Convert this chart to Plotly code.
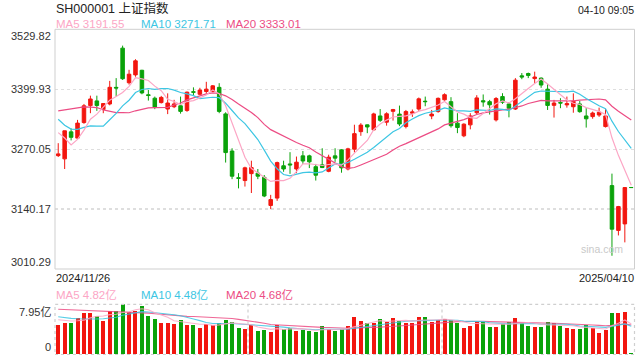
import plotly.graph_objects as go

# ---------------- data ----------------
dates = (
    ["2024/11/26", "2024/11/27", "2024/11/28", "2024/11/29"]
    + ["2024/12/%02d" % d for d in [2, 3, 4, 5, 6, 9, 10, 11, 12, 13, 16, 17, 18, 19, 20, 23, 24, 25, 26, 27, 30, 31]]
    + ["2025/01/%02d" % d for d in [2, 3, 6, 7, 8, 9, 10, 13, 14, 15, 16, 17, 20, 21, 22, 23, 24, 27]]
    + ["2025/02/%02d" % d for d in [5, 6, 7, 10, 11, 12, 13, 14, 17, 18, 19, 20, 21, 24, 25, 26, 27, 28]]
    + ["2025/03/%02d" % d for d in [3, 4, 5, 6, 7, 10, 11, 12, 13, 14, 17, 18, 19, 20, 21, 24, 25, 26, 27, 28, 31]]
    + ["2025/04/%02d" % d for d in [1, 2, 3, 7, 8, 9, 10]]
)

opens = [
    3256.0, 3249.0, 3307.5, 3294.0, 3327.7, 3364.5, 3374.6, 3356.0, 3368.0, 3404.0,
    3489.0, 3414.0, 3431.0, 3441.0, 3388.0, 3380.5, 3371.0, 3357.0, 3362.0, 3364.0,
    3354.0, 3394.5, 3389.0, 3395.0, 3395.0, 3404.0, 3346.5, 3266.0, 3208.0, 3202.0,
    3217.0, 3218.0, 3209.0, 3148.0, 3164.0, 3234.0, 3238.0, 3227.0, 3255.5, 3255.5,
    3232.0, 3236.0, 3222.0, 3255.5, 3268.5, 3227.0, 3270.0, 3308.0, 3322.7, 3312.0,
    3342.0, 3328.5, 3352.0, 3346.0, 3319.0, 3348.0, 3357.0, 3374.0, 3342.0, 3351.5,
    3377.0, 3373.0, 3326.4, 3299.0, 3322.7, 3349.0, 3375.0, 3373.0, 3333.5, 3384.0,
    3368.0, 3357.0, 3429.0, 3434.0, 3423.0, 3424.0, 3400.0, 3365.0, 3371.0, 3366.0,
    3362.0, 3368.0, 3342.0, 3340.6, 3344.0, 3319.0, 3191.0, 3094.0, 3108.0, 3187.0,
]
highs = [
    3283.0, 3310.0, 3315.0, 3333.5, 3368.0, 3386.0, 3386.0, 3370.0, 3418.0, 3424.0,
    3494.4, 3442.0, 3465.0, 3442.0, 3398.5, 3384.0, 3385.5, 3391.0, 3377.0, 3384.0,
    3395.0, 3404.0, 3403.0, 3416.0, 3409.0, 3413.0, 3350.0, 3272.0, 3218.0, 3232.0,
    3245.0, 3227.0, 3214.0, 3171.0, 3243.0, 3245.0, 3263.5, 3254.0, 3266.0, 3258.0,
    3238.0, 3272.0, 3258.0, 3272.0, 3270.0, 3273.0, 3323.0, 3326.4, 3323.5, 3349.0,
    3357.0, 3350.0, 3357.3, 3364.5, 3355.0, 3356.0, 3382.0, 3384.0, 3355.0, 3382.0,
    3391.0, 3382.7, 3348.0, 3326.0, 3348.0, 3387.0, 3388.6, 3376.8, 3383.0, 3391.3,
    3372.0, 3424.0, 3435.0, 3436.0, 3438.0, 3425.5, 3411.5, 3376.8, 3380.5, 3384.0,
    3391.0, 3374.6, 3359.0, 3351.5, 3360.0, 3357.0, 3217.0, 3147.0, 3188.0, 3187.0,
]
lows = [
    3253.0, 3227.0, 3289.0, 3293.0, 3325.0, 3348.0, 3353.0, 3348.0, 3365.0, 3384.0,
    3420.0, 3410.0, 3427.0, 3389.0, 3375.3, 3356.7, 3369.0, 3346.0, 3359.0, 3347.0,
    3351.0, 3386.0, 3387.0, 3390.0, 3394.0, 3348.0, 3241.0, 3205.0, 3185.0, 3189.0,
    3175.0, 3205.0, 3166.0, 3140.0, 3158.0, 3221.0, 3216.5, 3218.0, 3238.0, 3229.0,
    3202.0, 3229.0, 3220.0, 3242.5, 3219.0, 3224.0, 3263.0, 3299.0, 3304.7, 3310.0,
    3329.0, 3321.0, 3332.0, 3320.0, 3315.0, 3340.0, 3352.0, 3363.0, 3335.0, 3349.0,
    3375.0, 3316.8, 3304.7, 3296.0, 3313.0, 3346.0, 3362.0, 3345.0, 3330.0, 3368.0,
    3339.0, 3355.0, 3421.7, 3424.0, 3413.0, 3403.0, 3355.0, 3338.5, 3358.8, 3360.0,
    3349.0, 3349.0, 3316.8, 3336.0, 3340.0, 3317.0, 3039.0, 3083.0, 3068.0, 3186.8,
]
closes = [
    3259.8, 3309.8, 3295.7, 3326.5, 3364.0, 3378.8, 3364.7, 3368.9, 3404.1, 3402.5,
    3422.7, 3432.5, 3461.5, 3391.9, 3386.3, 3361.5, 3382.2, 3370.0, 3368.1, 3351.9,
    3393.5, 3393.4, 3398.1, 3400.1, 3407.3, 3351.8, 3262.6, 3211.4, 3206.9, 3229.6,
    3230.2, 3211.4, 3168.5, 3160.8, 3240.9, 3227.1, 3236.0, 3241.8, 3244.4, 3242.6,
    3213.6, 3230.2, 3252.6, 3250.6, 3229.5, 3270.7, 3303.7, 3322.2, 3318.1, 3346.4,
    3332.5, 3346.7, 3355.8, 3324.5, 3351.5, 3350.8, 3379.1, 3373.0, 3346.0, 3380.2,
    3388.1, 3320.9, 3316.9, 3324.2, 3342.0, 3381.1, 3372.6, 3366.2, 3379.8, 3371.9,
    3358.7, 3419.6, 3426.4, 3429.8, 3426.4, 3409.0, 3364.8, 3370.0, 3370.0, 3368.7,
    3373.8, 3351.3, 3335.8, 3348.4, 3350.1, 3342.0, 3096.6, 3145.6, 3186.8, 3186.8,
]

ma5 = [
    3305.8, 3294.2, 3279.4, 3291.2, 3311.2, 3335.0, 3346.0, 3360.6, 3376.2, 3384.0,
    3392.8, 3406.2, 3424.8, 3422.4, 3419.0, 3406.6, 3396.6, 3378.2, 3373.4, 3366.6,
    3373.2, 3375.4, 3381.0, 3387.4, 3398.4, 3390.0, 3364.0, 3326.6, 3288.0, 3252.6,
    3228.2, 3217.8, 3209.4, 3200.2, 3202.4, 3201.8, 3206.8, 3221.4, 3238.0, 3238.4,
    3235.8, 3234.6, 3236.8, 3238.2, 3235.4, 3246.8, 3261.6, 3275.4, 3288.8, 3312.2,
    3324.4, 3333.0, 3339.8, 3341.0, 3342.2, 3346.0, 3352.4, 3355.8, 3360.2, 3365.8,
    3373.2, 3361.6, 3350.4, 3346.0, 3338.4, 3337.0, 3347.4, 3357.2, 3368.4, 3374.4,
    3370.0, 3379.4, 3391.4, 3401.4, 3412.2, 3422.2, 3411.2, 3400.0, 3388.0, 3376.6,
    3369.6, 3366.8, 3360.0, 3355.6, 3351.8, 3345.4, 3294.6, 3256.6, 3224.4, 3191.6,
]
ma10 = [
    3334.9, 3322.0, 3313.6, 3313.1, 3317.1, 3320.4, 3320.1, 3320.0, 3333.7, 3347.6,
    3363.9, 3376.1, 3392.7, 3399.3, 3401.5, 3399.7, 3401.4, 3401.5, 3397.9, 3392.8,
    3389.9, 3386.0, 3379.6, 3380.4, 3382.5, 3381.6, 3369.7, 3353.8, 3337.7, 3325.5,
    3309.1, 3290.9, 3268.0, 3244.1, 3227.5, 3215.0, 3212.3, 3215.4, 3219.1, 3220.4,
    3218.8, 3220.7, 3229.1, 3238.1, 3236.9, 3241.3, 3248.1, 3256.1, 3263.5, 3273.8,
    3285.6, 3297.3, 3307.6, 3314.9, 3327.2, 3335.2, 3342.7, 3347.8, 3350.6, 3354.0,
    3359.6, 3357.0, 3353.1, 3353.1, 3352.1, 3355.1, 3354.5, 3353.8, 3357.2, 3356.4,
    3353.5, 3363.4, 3374.3, 3384.9, 3393.3, 3396.1, 3395.3, 3395.7, 3394.7, 3394.4,
    3395.9, 3389.0, 3380.0, 3371.8, 3364.2, 3357.5, 3330.7, 3308.3, 3290.0, 3271.7,
]
ma20 = [
    3353.2, 3355.4, 3356.2, 3358.9, 3361.6, 3361.2, 3360.2, 3355.1, 3352.7, 3349.4,
    3349.4, 3349.0, 3353.2, 3356.2, 3359.3, 3360.1, 3360.8, 3360.8, 3365.8, 3370.2,
    3376.9, 3381.1, 3386.2, 3389.9, 3392.0, 3390.7, 3385.6, 3377.7, 3367.8, 3359.2,
    3349.5, 3338.5, 3323.8, 3312.3, 3305.0, 3298.3, 3291.0, 3284.6, 3278.4, 3273.0,
    3264.0, 3255.8, 3248.6, 3241.1, 3232.2, 3228.2, 3230.2, 3235.8, 3241.3, 3247.1,
    3252.2, 3259.0, 3268.4, 3276.5, 3282.1, 3288.3, 3295.4, 3302.0, 3307.0, 3313.9,
    3322.6, 3327.2, 3330.4, 3334.0, 3339.7, 3345.2, 3348.6, 3350.8, 3353.9, 3355.2,
    3356.6, 3360.2, 3363.7, 3369.0, 3372.7, 3375.6, 3374.9, 3374.8, 3376.0, 3375.4,
    3374.7, 3376.2, 3377.2, 3378.4, 3378.8, 3376.8, 3363.0, 3352.0, 3342.4, 3333.1,
]

# volume in 亿
volumes = [
    4.72, 5.04, 5.04, 5.78, 6.63, 6.63, 6.10, 5.35, 6.89, 6.89,
    7.95, 6.73, 6.94, 7.74, 6.10, 5.62, 5.04, 5.04, 4.88, 5.46,
    4.72, 4.72, 4.24, 4.77, 4.66, 5.04, 5.46, 5.14, 4.24, 4.08,
    4.61, 3.71, 3.92, 3.60, 4.61, 3.98, 4.19, 3.76, 3.92, 3.76,
    3.60, 4.51, 3.98, 3.71, 3.98, 4.51, 5.94, 5.30, 4.93, 5.04,
    5.62, 5.19, 5.78, 5.35, 5.04, 5.04, 5.94, 5.94, 5.19, 5.46,
    5.57, 5.46, 5.04, 4.19, 4.56, 5.35, 5.19, 4.40, 4.40, 4.82,
    5.09, 5.78, 5.04, 4.56, 4.35, 4.35, 5.09, 4.93, 4.51, 4.19,
    4.03, 4.08, 4.66, 4.19, 3.45, 3.87, 6.63, 6.63, 6.78, 0.20,
]
vma5 = [
    5.50, 5.40, 5.30, 5.35, 5.44, 5.82, 6.04, 6.10, 6.32, 6.37,
    6.64, 6.76, 7.08, 7.25, 7.09, 6.63, 6.29, 5.91, 5.34, 5.21,
    5.03, 4.96, 4.80, 4.78, 4.62, 4.69, 4.83, 5.01, 4.91, 4.79,
    4.71, 4.36, 4.11, 3.98, 4.09, 3.96, 4.06, 4.03, 4.09, 3.92,
    3.85, 3.91, 3.95, 3.91, 3.96, 4.14, 4.42, 4.69, 4.93, 5.14,
    5.37, 5.22, 5.31, 5.40, 5.40, 5.28, 5.43, 5.46, 5.43, 5.51,
    5.62, 5.52, 5.34, 5.14, 4.96, 4.92, 4.87, 4.74, 4.78, 4.83,
    4.78, 4.90, 5.03, 5.06, 4.96, 4.82, 4.68, 4.66, 4.65, 4.61,
    4.55, 4.35, 4.29, 4.23, 4.08, 4.05, 4.56, 4.95, 5.47, 4.82,
]
vma10 = [
    5.99, 5.83, 5.72, 5.67, 5.62, 5.62, 5.62, 5.67, 5.83, 5.91,
    6.23, 6.40, 6.59, 6.79, 6.73, 6.63, 6.53, 6.49, 6.29, 6.15,
    5.83, 5.63, 5.36, 5.06, 4.92, 4.86, 4.90, 4.91, 4.85, 4.71,
    4.70, 4.60, 4.56, 4.45, 4.44, 4.34, 4.21, 4.07, 4.04, 4.01,
    3.91, 3.99, 3.99, 4.00, 3.94, 3.99, 4.17, 4.32, 4.42, 4.55,
    4.75, 4.82, 5.00, 5.16, 5.27, 5.32, 5.32, 5.39, 5.41, 5.46,
    5.45, 5.48, 5.40, 5.29, 5.24, 5.27, 5.20, 5.04, 4.96, 4.90,
    4.85, 4.88, 4.88, 4.92, 4.90, 4.80, 4.79, 4.84, 4.85, 4.79,
    4.68, 4.51, 4.48, 4.44, 4.35, 4.30, 4.45, 4.62, 4.85, 4.48,
]
vma20 = [
    7.16, 7.12, 7.08, 7.04, 7.00, 6.97, 6.94, 6.91, 6.88, 6.84,
    6.80, 6.75, 6.70, 6.63, 6.55, 6.46, 6.36, 6.25, 6.14, 6.03,
    6.03, 6.01, 5.97, 5.92, 5.82, 5.74, 5.71, 5.70, 5.57, 5.43,
    5.26, 5.11, 4.96, 4.75, 4.68, 4.60, 4.55, 4.49, 4.44, 4.36,
    4.30, 4.29, 4.28, 4.22, 4.19, 4.16, 4.19, 4.20, 4.23, 4.28,
    4.33, 4.40, 4.50, 4.58, 4.60, 4.66, 4.75, 4.85, 4.92, 5.00,
    5.10, 5.15, 5.20, 5.23, 5.25, 5.30, 5.26, 5.21, 5.19, 5.18,
    5.15, 5.18, 5.14, 5.10, 5.07, 5.03, 4.99, 4.94, 4.91, 4.84,
    4.77, 4.70, 4.68, 4.68, 4.62, 4.55, 4.62, 4.73, 4.85, 4.68,
]

price_ticks = [3010.29, 3140.17, 3270.05, 3399.93, 3529.82]
vol_ticks = ["0", "7.95亿"]
vol_max = 7.95
title_text = "SH000001 上证指数"
time_text = "04-10 09:05"
ma_labels = ["MA5 3191.55", "MA10 3271.71", "MA20 3333.01"]
vma_labels = ["MA5 4.82亿", "MA10 4.48亿", "MA20 4.68亿"]

# ---------------- style ----------------
RED = "#f2160f"
GREEN = "#0aa20a"
C_MA5 = "#fca6c5"
C_MA10 = "#3dc6e3"
C_MA20 = "#ec4c84"
FONT = "Liberation Sans, Arial, Noto Sans CJK SC, sans-serif"
W, H = 640, 360
X0, X1 = 55, 634.5
MAIN_T, MAIN_B = 29.3, 269.0
VOL_T, VOL_B = 304.3, 354.5


def px(x):
    return x / W


def py(y):
    return 1 - y / H


fig = go.Figure()

fig.add_trace(go.Candlestick(
    x=dates, open=opens, high=highs, low=lows, close=closes,
    increasing=dict(line=dict(color=RED, width=1), fillcolor=RED),
    decreasing=dict(line=dict(color=GREEN, width=1), fillcolor=GREEN),
    whiskerwidth=0, xaxis="x", yaxis="y", hoverinfo="skip", showlegend=False,
))
for arr, col in [(ma20, C_MA20), (ma10, C_MA10), (ma5, C_MA5)]:
    fig.add_trace(go.Scatter(x=dates, y=arr, mode="lines",
                             line=dict(color=col, width=1.2),
                             xaxis="x", yaxis="y", hoverinfo="skip", showlegend=False))

vol_colors = [RED if c > o else GREEN for o, c in zip(opens, closes)]
fig.add_trace(go.Bar(x=dates, y=volumes, marker=dict(color=vol_colors, line=dict(width=0)),
                     width=0.62, xaxis="x2", yaxis="y2", hoverinfo="skip", showlegend=False))
for arr, col in [(vma20, C_MA20), (vma10, C_MA10), (vma5, C_MA5)]:
    fig.add_trace(go.Scatter(x=dates, y=arr, mode="lines",
                             line=dict(color=col, width=1.1),
                             opacity=0.85,
                             xaxis="x2", yaxis="y2", hoverinfo="skip", showlegend=False))

n = len(dates)
xr = [-0.5, n - 0.5]
fig.update_layout(
    width=W, height=H,
    margin=dict(l=0, r=0, t=0, b=0),
    paper_bgcolor="white", plot_bgcolor="white",
    font=dict(family=FONT, size=11, color="#222"),
    bargap=0, boxgap=0.22,
    xaxis=dict(domain=[px(X0), px(X1)], range=xr, type="category", anchor="y",
               showticklabels=False, showgrid=False, zeroline=False, showline=False,
               ticks="", rangeslider=dict(visible=False), fixedrange=True),
    yaxis=dict(domain=[py(MAIN_B), py(MAIN_T)], range=[price_ticks[0], price_ticks[-1]],
               anchor="x", tickvals=price_ticks[1:-1], showticklabels=False,
               showgrid=True, gridcolor="#dedede", griddash="dot", gridwidth=1.3,
               zeroline=False, showline=False, ticks="", fixedrange=True),
    xaxis2=dict(domain=[px(X0), px(X1)], range=xr, type="category", anchor="y2",
                showticklabels=False, showgrid=False, zeroline=False, showline=False,
                ticks="", fixedrange=True),
    yaxis2=dict(domain=[py(VOL_B), py(VOL_T)], range=[0, vol_max], anchor="x2",
                showticklabels=False, showgrid=False, zeroline=False, showline=False,
                ticks="", fixedrange=True),
)

shapes = [
    dict(type="rect", xref="paper", yref="paper", x0=px(X0), x1=px(X1),
         y0=py(MAIN_B), y1=py(MAIN_T), line=dict(color="#cfcfcf", width=1), layer="above"),
    dict(type="rect", xref="paper", yref="paper", x0=px(X0), x1=px(X1),
         y0=py(VOL_B), y1=py(VOL_T), line=dict(color="#cfcfcf", width=1.2, dash="dot"), layer="above"),
]
for vx in (248, 442):
    shapes.append(dict(type="line", xref="paper", yref="paper", x0=px(vx), x1=px(vx),
                       y0=py(VOL_B), y1=py(VOL_T),
                       line=dict(color="#cfcfcf", width=1.2, dash="dot"), layer="below"))
fig.update_layout(shapes=shapes)

ann = []


def text(t, x, y, xanchor="left", yanchor="middle", size=11, color="#222", yref="paper"):
    ann.append(dict(text=t, x=x, y=y, xref="paper", yref=yref, xanchor=xanchor,
                    yanchor=yanchor, showarrow=False, borderpad=0,
                    font=dict(family=FONT, size=size, color=color)))


text(title_text, px(55), py(8), size=12.5, color="#222")
text(time_text, px(635), py(9.5), xanchor="right", size=10.5, color="#222")
for lbl, xx, col in zip(ma_labels, (55, 140, 225), (C_MA5, C_MA10, C_MA20)):
    text(lbl, px(xx), py(24), size=11.5, color=col)
for v in price_ticks:
    if v == price_ticks[-1]:
        text(f"{v:.2f}", px(52), v, xanchor="right", yanchor="top", yref="y", color="#333")
    elif v == price_ticks[0]:
        text(f"{v:.2f}", px(52), v, xanchor="right", yanchor="bottom", yref="y", color="#333")
    else:
        text(f"{v:.2f}", px(52), v, xanchor="right", yanchor="middle", yref="y", color="#333")
text(dates[0], px(55), py(278), size=11, color="#222")
text(dates[-1], px(635), py(278), xanchor="right", size=11, color="#222")
for lbl, xx, col in zip(vma_labels, (55, 140, 225), (C_MA5, C_MA10, C_MA20)):
    text(lbl, px(xx), py(295), size=11.5, color=col)
text(vol_ticks[1], px(52), py(VOL_T + 1), xanchor="right", yanchor="top", color="#333")
text(vol_ticks[0], px(52), py(VOL_B - 1), xanchor="right", yanchor="bottom", color="#333")
text("sina.com", px(602), py(249), xanchor="center", size=10.5, color="#c9c9c9")
fig.update_layout(annotations=ann)

fig.write_html(
    "out.html",
    config={"displayModeBar": False, "staticPlot": True},
    post_script="document.body.style.margin='0';document.body.style.overflow='hidden';",
)
